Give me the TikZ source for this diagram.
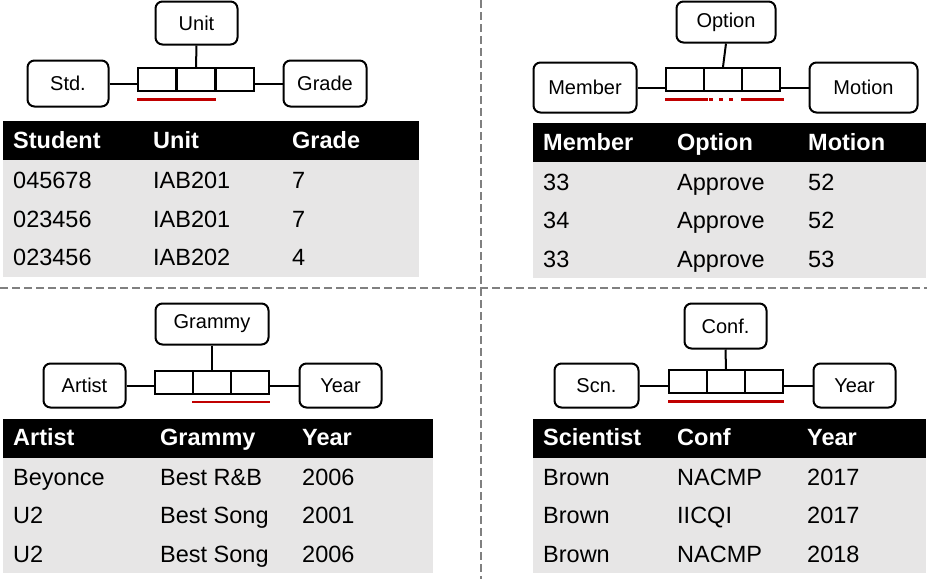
\documentclass[tikz,border=0pt]{standalone}
\usepackage{fontspec}
\setmainfont{Liberation Sans}
\definecolor{keyred}{RGB}{192,0,0}
\definecolor{sepgray}{RGB}{128,128,128}
\definecolor{rowgray}{RGB}{231,230,230}
\begin{document}
\begin{tikzpicture}[x=1pt,y=-1pt,
  ent/.style={draw, line width=2pt, rounded corners=7pt, inner sep=0pt,
    font=\fontsize{20}{24}\selectfont},
  cell/.style={draw, line width=2pt, minimum width=38pt, minimum height=23pt, inner sep=0pt},
  link/.style={line width=2pt},
  key/.style={line width=2.6pt, draw=keyred},
  hd/.style={anchor=base west, inner sep=0pt, text=white,
    font=\fontsize{23.5}{28}\selectfont\bfseries},
  td/.style={anchor=base west, inner sep=0pt, font=\fontsize{23.5}{28}\selectfont},
  sep/.style={draw=sepgray, line width=1.5pt, dash pattern=on 8pt off 4pt}]
\useasboundingbox (0,0) rectangle (927,579);

% quadrant separators
\draw[sep] (481,0) -- (481,579);
\draw[sep] (0,288) -- (927,288);

% ---------- Student / Unit / Grade ----------
\node[ent, minimum width=82pt, minimum height=43pt] (unit) at (196.5,23) {Unit};
\node[ent, minimum width=81pt, minimum height=46pt] (std) at (68,83.5) {Std.};
\node[ent, minimum width=83pt, minimum height=46pt] (grade) at (325,83.5) {Grade};
\node[cell] (a1) at (157.3,79.5) {};
\node[cell] (a2) at (196,79.5) {};
\node[cell] (a3) at (234.7,79.5) {};
\draw[link] (unit.south) -- (a2.north);
\draw[link] (std.east) -- (std.east -| a1.west);
\draw[link] (a3.east |- grade.west) -- (grade.west);
\draw[key] ([yshift=-7.5pt]a1.south west) -- ([yshift=-7.5pt]a2.south east);

\fill (3,121) rectangle (419,160);
\fill[rowgray] (3,160) rectangle (419,277);
\node[hd] (a-h1) at (13,148) {Student};
\node[hd] (a-h2) at (153,148) {Unit};
\node[hd] (a-h3) at (292,148) {Grade};
\node[td] (a-r11) at (13,188) {045678};
\node[td] (a-r12) at (153,188) {IAB201};
\node[td] (a-r13) at (292,188) {7};
\node[td] (a-r21) at (13,227) {023456};
\node[td] (a-r22) at (153,227) {IAB201};
\node[td] (a-r23) at (292,227) {7};
\node[td] (a-r31) at (13,265) {023456};
\node[td] (a-r32) at (153,265) {IAB202};
\node[td] (a-r33) at (292,265) {4};

% ---------- Member / Option / Motion ----------
\node[ent, minimum width=99pt, minimum height=41pt] (opt) at (726,22) {Option};
\node[ent, minimum width=103pt, minimum height=50pt] (mem) at (585,87.5) {Member};
\node[ent, minimum width=108pt, minimum height=50pt] (mot) at (863.5,87.5) {Motion};
\node[cell] (b1) at (685,79.5) {};
\node[cell] (b2) at (723,79.5) {};
\node[cell] (b3) at (761,79.5) {};
\draw[link] (opt.south) -- (b2.north);
\draw[link] (mem.east) -- (mem.east -| b1.west);
\draw[link] (b3.east |- mot.west) -- (mot.west);
\draw[key] ([yshift=-7.5pt]b1.south west) -- ([xshift=3pt,yshift=-7.5pt]b1.south east);
\draw[key, dash pattern=on 4pt off 6pt] ([xshift=6pt,yshift=-7.5pt]b2.south west) -- ([xshift=-7pt,yshift=-7.5pt]b2.south east);
\draw[key] ([yshift=-7.5pt]b3.south west) -- ([xshift=3pt,yshift=-7.5pt]b3.south east);

\fill (533,123) rectangle (926,162);
\fill[rowgray] (533,162) rectangle (926,278);
\node[hd] (b-h1) at (543,150) {Member};
\node[hd] (b-h2) at (677,150) {Option};
\node[hd] (b-h3) at (808,150) {Motion};
\node[td] (b-r11) at (543,190) {33};
\node[td] (b-r12) at (677,190) {Approve};
\node[td] (b-r13) at (808,190) {52};
\node[td] (b-r21) at (543,228) {34};
\node[td] (b-r22) at (677,228) {Approve};
\node[td] (b-r23) at (808,228) {52};
\node[td] (b-r31) at (543,267) {33};
\node[td] (b-r32) at (677,267) {Approve};
\node[td] (b-r33) at (808,267) {53};

% ---------- Artist / Grammy / Year ----------
\node[ent, minimum width=113pt, minimum height=41pt] (gram) at (212,324) {Grammy};
\node[ent, minimum width=82pt, minimum height=44pt] (art) at (84.5,385.5) {Artist};
\node[ent, minimum width=82pt, minimum height=44pt] (yr) at (340.5,385.5) {Year};
\node[cell] (c1) at (174,382) {};
\node[cell] (c2) at (212,382) {};
\node[cell] (c3) at (250,382) {};
\draw[link] (gram.south) -- (c2.north);
\draw[link] (art.east) -- (art.east -| c1.west);
\draw[link] (c3.east |- yr.west) -- (yr.west);
\draw[key] ([yshift=-7.5pt]c2.south west) -- ([yshift=-7.5pt]c3.south east);

\fill (3,419) rectangle (433,458);
\fill[rowgray] (3,458) rectangle (433,573);
\node[hd] (c-h1) at (13,445) {Artist};
\node[hd] (c-h2) at (160,445) {Grammy};
\node[hd] (c-h3) at (302,445) {Year};
\node[td] (c-r11) at (13,485) {Beyonce};
\node[td] (c-r12) at (160,485) {Best R\&B};
\node[td] (c-r13) at (302,485) {2006};
\node[td] (c-r21) at (13,523) {U2};
\node[td] (c-r22) at (160,523) {Best Song};
\node[td] (c-r23) at (302,523) {2001};
\node[td] (c-r31) at (13,562) {U2};
\node[td] (c-r32) at (160,562) {Best Song};
\node[td] (c-r33) at (302,562) {2006};

% ---------- Scientist / Conf / Year ----------
\node[ent, minimum width=82pt, minimum height=45pt] (conf) at (725.5,326) {Conf.};
\node[ent, minimum width=84pt, minimum height=44pt] (scn) at (596.5,385.5) {Scn.};
\node[ent, minimum width=82pt, minimum height=44pt] (yr2) at (854.5,385.5) {Year};
\node[cell] (d1) at (688,381.5) {};
\node[cell] (d2) at (726,381.5) {};
\node[cell] (d3) at (764,381.5) {};
\draw[link] (conf.south) -- (d2.north);
\draw[link] (scn.east) -- (scn.east -| d1.west);
\draw[link] (d3.east |- yr2.west) -- (yr2.west);
\draw[key] ([yshift=-7.5pt]d1.south west) -- ([yshift=-7.5pt]d3.south east);

\fill (533,419) rectangle (926,458);
\fill[rowgray] (533,458) rectangle (926,573);
\node[hd] (d-h1) at (543,445) {Scientist};
\node[hd] (d-h2) at (677,445) {Conf};
\node[hd] (d-h3) at (807,445) {Year};
\node[td] (d-r11) at (543,485) {Brown};
\node[td] (d-r12) at (677,485) {NACMP};
\node[td] (d-r13) at (807,485) {2017};
\node[td] (d-r21) at (543,523) {Brown};
\node[td] (d-r22) at (677,523) {IICQI};
\node[td] (d-r23) at (807,523) {2017};
\node[td] (d-r31) at (543,562) {Brown};
\node[td] (d-r32) at (677,562) {NACMP};
\node[td] (d-r33) at (807,562) {2018};
\end{tikzpicture}
\end{document}
